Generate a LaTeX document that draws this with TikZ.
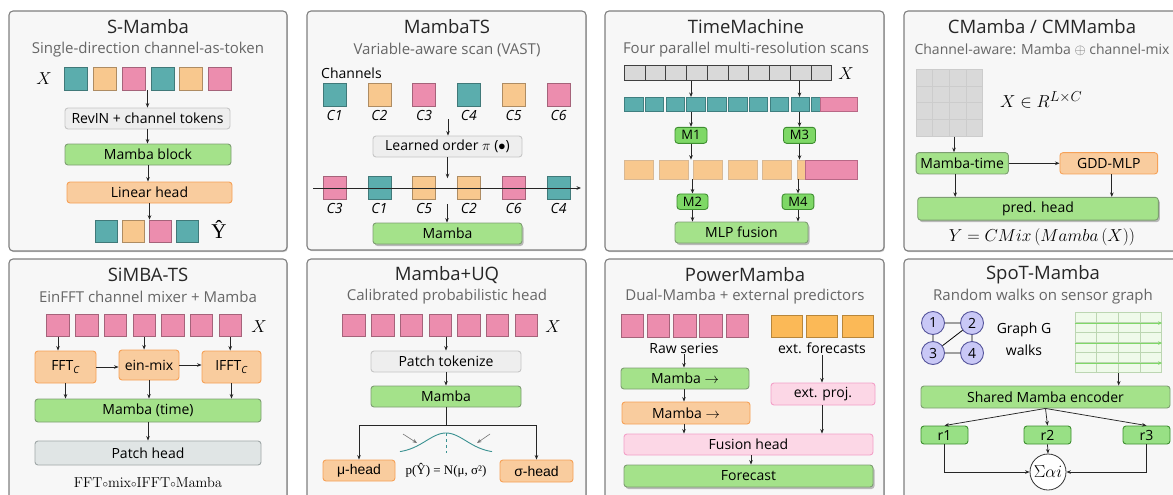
\documentclass[tikz,border=0pt]{standalone}
\usepackage[no-math]{fontspec}
\setmainfont{Open Sans}
\newfontfamily\serifx{Liberation Serif}
\newfontfamily\arialx{Liberation Sans}
\usetikzlibrary{arrows.meta,shadows,calc}

\definecolor{cpanel}{HTML}{F7F7F7}
\definecolor{cborder}{HTML}{7F7F7F}
\definecolor{csub}{HTML}{666666}
\definecolor{cteal}{HTML}{5BADAD}
\definecolor{ctealD}{HTML}{3F7F80}
\definecolor{corg}{HTML}{F8C88E}
\definecolor{corgD}{HTML}{C79A66}
\definecolor{cpink}{HTML}{EC8DAE}
\definecolor{cpinkD}{HTML}{B86886}
\definecolor{cgrayF}{HTML}{EEEEEE}
\definecolor{cgrayD}{HTML}{C6C6C6}
\definecolor{cgreen}{HTML}{A4E28A}
\definecolor{cgreenD}{HTML}{7E9E72}
\definecolor{cboxO}{HTML}{F9CC9E}
\definecolor{cboxOD}{HTML}{F6A157}
\definecolor{cmg}{HTML}{7ED866}
\definecolor{cmgD}{HTML}{3E8E30}
\definecolor{cpatch}{HTML}{E0E5E5}
\definecolor{cpatchD}{HTML}{9FA7A7}
\definecolor{cpinkL}{HTML}{FCD7E6}
\definecolor{cpinkLD}{HTML}{F3A0C8}
\definecolor{cext}{HTML}{FBB957}
\definecolor{cextD}{HTML}{B8863A}
\definecolor{cnode}{HTML}{C9C8F6}
\definecolor{cnodeD}{HTML}{56559B}
\definecolor{cgridF}{HTML}{EFFAEA}
\definecolor{cgridD}{HTML}{BCD6B2}
\definecolor{cwalk}{HTML}{7FD868}
\definecolor{cgauss}{HTML}{3A9191}
\definecolor{ccell}{HTML}{D9D9D9}

\begin{document}
\begin{tikzpicture}[x=1pt,y=-1pt,
  panel/.style={draw=cborder, fill=cpanel, rounded corners=4pt, line width=1.1pt,
    drop shadow={shadow xshift=0.8pt, shadow yshift=-1.2pt, opacity=0.2, fill=black}},
  title/.style={font=\fontsize{18.5}{20}\selectfont, text=black!85},
  sub/.style={font=\fontsize{15}{17}\selectfont, text=csub},
  lbl/.style={font=\fontsize{14}{16}\selectfont, inner sep=1pt},
  clbl/.style={font=\fontsize{14}{16}\selectfont\itshape, inner sep=0pt},
  mlbl/.style={font=\fontsize{19}{21}\selectfont, inner sep=0pt},
  sq/.style={rectangle, minimum size=23, inner sep=0, fill=#1, draw=#1!70!black, line width=0.6pt},
  box/.style={rectangle, rounded corners=3pt, inner sep=0, line width=0.9pt,
    font=\fontsize{14}{16}\selectfont},
  graybox/.style={box, fill=cgrayF, draw=cgrayD},
  grnbox/.style={box, fill=cgreen, draw=cgreenD},
  orgbox/.style={box, fill=cboxO, draw=cboxOD},
  pinkbox/.style={box, fill=cpinkL, draw=cpinkLD},
  patchbox/.style={box, fill=cpatch, draw=cpatchD},
  mbox/.style={box, fill=cmg, draw=cmgD, font=\fontsize{13}{15}\selectfont},
  shad/.style={drop shadow={shadow xshift=1.5pt, shadow yshift=-2pt, opacity=0.25, fill=black}},
  arr/.style={-{Stealth[length=4.5pt,width=3.6pt]}, line width=0.75pt, draw=black!85},
]
\useasboundingbox (0,0) rectangle (1173,495);

% ---------------- S-Mamba ----------------
\path[panel] (9,11) rectangle (287,251);
\node[title] (t1) at (148,27) {S-Mamba};
\node[sub] (s1) at (148,50) {Single-direction channel-as-token};
\node[mlbl] (x1) at (44,79) {$X$};
\foreach \c [count=\i from 0] in {cteal,corg,cpink,cteal,corg,cpink}
  \node[sq=\c] (a\i) at ({76+28.8*\i},78.5) {};
\node[graybox, minimum width=165, minimum height=21] (rev) at (147.5,118.5) {RevIN + channel tokens};
\node[grnbox, minimum width=166, minimum height=21] (mb1) at (148,154.5) {Mamba block};
\node[orgbox, minimum width=165, minimum height=21] (lh) at (149.5,192.5) {Linear head};
\foreach \c/\x [count=\i] in {cteal/106.5,corg/133,cpink/160,cteal/187.5}
  \node[sq=\c, minimum size=22] (b\i) at (\x,231) {};
\node[font=\fontsize{21}{23}\serifx, inner sep=0, anchor=base] (yh) at (219,238) {Ŷ};
\draw[arr] (rev.north |- a2.south) -- (rev.north);
\draw[arr] (rev.south) -- (rev.south |- mb1.north);
\draw[arr] (mb1.south) -- (mb1.south |- lh.north);
\draw[arr] (lh.south) -- (lh.south |- b2.north);

% ---------------- MambaTS ----------------
\path[panel] (307,11) rectangle (586,250);
\node[title] (t2) at (447,27) {MambaTS};
\node[sub] (s2) at (447,50) {Variable-aware scan (VAST)};
\node[lbl, anchor=west] (ch) at (320,73) {Channels};
\foreach \c [count=\i from 0] in {cteal,corg,cpink,cteal,corg,cpink}
  \node[sq=\c] (c\i) at ({334.5+44.8*\i},95) {};
\foreach \n [count=\i from 0] in {1,...,6}
  \node[clbl] (cl\i) at ({334.5+44.8*\i},115) {C\n};
\coordinate (p2a) at (448,119);
\node[graybox, minimum width=149, minimum height=21] (lo) at (447.5,146.5) {Learned order $\pi$ ($\bullet$)};
\draw[arr] (p2a) -- (p2a |- lo.north);
\foreach \c [count=\i from 0] in {cpink,cteal,corg,corg,cpink,cteal}
  \node[sq=\c] (d\i) at ({334.5+44.8*\i},188) {};
\coordinate (axL) at (313,188);
\coordinate (axR) at (581,188);
\draw[arr] (axL) -- (axR);
\draw[arr] (lo.south) -- ([yshift=-2pt]lo.south |- d0.north);
\foreach \n [count=\i from 0] in {3,1,5,2,6,4}
  \node[clbl] (dl\i) at ({334.5+44.8*\i},208) {C\n};
\node[grnbox, shad, minimum width=149, minimum height=21] (mb2) at (447.5,233.5) {Mamba};
\coordinate (p2b) at (447,204);
\draw[arr] (p2b) -- (p2b |- mb2.north);

% ---------------- TimeMachine ----------------
\path[panel] (605,11) rectangle (884,251);
\node[title] (t3) at (746,27) {TimeMachine};
\node[sub] (s3) at (746,50) {Four parallel multi-resolution scans};
\foreach \i in {0,...,9}
  \node[rectangle, inner sep=0, minimum width=20.74, minimum height=15.7, fill=ccell, draw=black!75, line width=0.6pt]
    (g\i) at ({634.67+20.74*\i},72.85) {};
\node[mlbl] (x3) at (846,74) {$X$};
\foreach \i in {0,...,9}
  \node[rectangle, inner sep=0, minimum width=18.5, minimum height=14.4, fill=cteal, draw=ctealD, line width=0.6pt]
    (t\i) at ({633.55+20.83*\i},104.5) {};
\node[rectangle, inner sep=0, minimum width=37.3, minimum height=14.4, fill=cpink, draw=cpinkD, line width=0.6pt]
  (tp) at (838.65,104.5) {};
\node[mbox, minimum width=32, minimum height=16] (m1) at (691,135.3) {M1};
\node[mbox, minimum width=32, minimum height=16] (m3) at (799.5,135.3) {M3};
\foreach \i in {0,...,5}
  \node[rectangle, inner sep=0, minimum width=29, minimum height=19, fill=corg, draw=corgD!70, line width=0.6pt]
    (o\i) at ({638.8+34.5*\i},169.5) {};
\node[rectangle, inner sep=0, minimum width=51.6, minimum height=19, fill=cpink, draw=cpinkD, line width=0.6pt]
  (op) at (831.5,169.5) {};
\node[mbox, minimum width=31, minimum height=15.5] (m2) at (692.5,201.7) {M2};
\node[mbox, minimum width=31.7, minimum height=15.5] (m4) at (798,201.7) {M4};
\node[grnbox, shad, minimum width=133, minimum height=21] (mlp) at (741.5,232.5) {MLP fusion};
\draw[arr] (m1.north |- g0.south) -- (m1.north |- t0.north);
\draw[arr] (m3.north |- g0.south) -- (m3.north |- t0.north);
\draw[arr] (m1.north |- t0.south) -- (m1.north);
\draw[arr] (m3.north |- t0.south) -- (m3.north);
\draw[arr] (m1.south) -- (m1.south |- o0.north);
\draw[arr] (m3.south) -- (m3.south |- o0.north);
\draw[arr] (m2.north |- o0.south) -- (m2.north);
\draw[arr] (m4.north |- o0.south) -- (m4.north);
\draw[arr] (m2.south) -- (m2.south |- mlp.north);
\draw[arr] (m4.south) -- (m4.south |- mlp.north);

% ---------------- CMamba / CMMamba ----------------
\path[panel] (904,11) rectangle (1182,251);
\node[title] (t4) at (1042,27) {CMamba / CMMamba};
\node[sub, anchor=west, font=\fontsize{14}{16}\selectfont] (s4) at (911,50) {Channel-aware: Mamba $\oplus$ channel-mix};
\foreach \i in {0,...,3}
  \foreach \j in {0,...,3}
    \node[rectangle, inner sep=0, minimum size=16.67, fill=ccell, draw=black!20, line width=0.8pt]
      (q\i\j) at ({924.33+16.67*\i},{77.63+16.67*\j}) {};
\node[anchor=west, font=\fontsize{19}{21}\selectfont, inner sep=0] (xr) at (1000,100) {$X \in R^{L\times C}$};
\node[grnbox, minimum width=92.3, minimum height=21.3] (mt) at (962.2,163.3) {Mamba-time};
\node[orgbox, minimum width=97.7, minimum height=21.3] (gdd) at (1108.8,163.3) {GDD-MLP};
\node[grnbox, shad, minimum width=240.6, minimum height=22.7] (ph) at (1038,208.7) {pred. head};
\coordinate (p4a) at (954,136.5);
\draw[arr] (p4a) -- (p4a |- mt.north);
\draw[arr] (mt.east) -- (gdd.west);
\draw[arr] ([xshift=-7pt]mt.south) -- ([xshift=-7pt]mt.south |- ph.north);
\draw[arr] ([xshift=3pt]gdd.south) -- ([xshift=3pt]gdd.south |- ph.north);
\node[font=\fontsize{16.5}{18}\selectfont, inner sep=0] (yf) at (1042,237) {$Y = CMix\,(Mamba\,(X))$};

% ---------------- SiMBA-TS ----------------
\path[panel] (9,259) rectangle (287,502);
\node[title] (t5) at (148,275) {SiMBA-TS};
\node[sub] (s5) at (148,297) {EinFFT channel mixer + Mamba};
\foreach \i in {0,...,6}
  \node[sq=cpink, minimum size=22.5] (p\i) at ({58+28.7*\i},325.5) {};
\node[mlbl] (x5) at (259,327) {$X$};
\node[orgbox, minimum width=61, minimum height=32] (fft) at (65.5,367) {FFT\textsubscript{\itshape C}};
\node[orgbox, minimum width=60, minimum height=30] (ein) at (149,365) {ein-mix};
\node[orgbox, minimum width=59, minimum height=32] (ifft) at (231.5,367) {IFFT\textsubscript{\itshape C}};
\node[grnbox, minimum width=226, minimum height=23] (mt5) at (148,410.5) {Mamba (time)};
\node[patchbox, minimum width=226, minimum height=24] (ph5) at (148,453) {Patch head};
\node[font=\fontsize{15.5}{17}\selectfont, inner sep=0] (ff) at (148,482)
  {$\mathrm{FFT}{\scriptstyle\circ}\mathrm{mix}{\scriptstyle\circ}\mathrm{IFFT}{\scriptstyle\circ}\mathrm{Mamba}$};
\draw[arr] (p0.south) -- (p0.south |- fft.north);
\draw[arr] (p3.south) -- (p3.south |- ein.north);
\draw[arr] (p6.south) -- (p6.south |- ifft.north);
\draw[arr] (fft.east) -- (fft.east -| ein.west);
\draw[arr] (ein.east) -- (ein.east -| ifft.west);
\draw[arr] (fft.south) -- (fft.south |- mt5.north);
\draw[arr] (ein.south) -- (ein.south |- mt5.north);
\draw[arr] (ifft.south) -- (ifft.south |- mt5.north);
\draw[arr] (mt5.south) -- (mt5.south |- ph5.north);

% ---------------- Mamba+UQ ----------------
\path[panel] (307,259) rectangle (586,502);
\node[title] (t6) at (447,275) {Mamba+UQ};
\node[sub] (s6) at (447,297) {Calibrated probabilistic head};
\foreach \i in {0,...,6}
  \node[sq=cpink, minimum size=22.5] (u\i) at ({354+28.7*\i},325.5) {};
\node[mlbl] (x6) at (553,327) {$X$};
\node[graybox, minimum width=150, minimum height=21] (pt) at (446,361.5) {Patch tokenize};
\node[grnbox, minimum width=150, minimum height=21] (m6) at (446,396.5) {Mamba};
\node[orgbox, minimum width=72, minimum height=21, font=\fontsize{14}{16}\arialx] (mu) at (359,470.5) {μ-head};
\node[orgbox, minimum width=73, minimum height=22, font=\fontsize{14}{16}\arialx] (sig) at (536.5,471) {σ-head};
\draw[arr] (pt.north |- u3.south) -- (pt.north);
\draw[arr] (pt.south) -- (m6.north);
\draw[arr] (m6.south) -- ++(0,18) -| (mu.north);
\draw[arr] (m6.south) -- ++(0,18) -| (sig.north);
\draw[cgauss, line width=0.9pt] plot[domain=400:492, samples=60, smooth]
  (\x,{453-20*exp(-((\x-446)/20)*((\x-446)/20)/2)});
\draw[cgauss, dashed, line width=0.7pt] (446,433) -- (446,453);
\coordinate (gl1) at (403,434); \coordinate (gl2) at (417,443);
\coordinate (gr1) at (490,434); \coordinate (gr2) at (477,443);
\draw[arr, draw=black!55, line width=0.6pt] (gl1) -- (gl2);
\draw[arr, draw=black!55, line width=0.6pt] (gr1) -- (gr2);
\node[font=\fontsize{13}{15}\serifx, inner sep=0] (pf) at (446,470) {p(Ŷ) = N(μ, σ²)};

% ---------------- PowerMamba ----------------
\path[panel] (605,259) rectangle (884,502);
\node[title] (t7) at (745,275) {PowerMamba};
\node[sub] (s7) at (745,297) {Dual-Mamba + external predictors};
\foreach \x [count=\i] in {632.5,658.5,685,711,737.5}
  \node[sq=cpink, minimum size=22.5] (w\i) at (\x,326) {};
\foreach \x [count=\i] in {786.5,822,857.5}
  \node[rectangle, inner sep=0, minimum width=31, minimum height=22, fill=cext, draw=cextD, line width=0.6pt]
    (e\i) at (\x,326) {};
\node[lbl] (rs) at (684,348) {Raw series};
\node[lbl] (ef) at (822,348) {ext. forecasts};
\node[grnbox, minimum width=128, minimum height=21] (mA) at (685,378.5) {Mamba $\rightarrow$};
\node[orgbox, minimum width=128, minimum height=22] (mB) at (686,413) {Mamba $\rightarrow$};
\node[pinkbox, minimum width=104, minimum height=22] (ep) at (823,394) {ext. proj.};
\node[pinkbox, minimum width=249, minimum height=21] (fh) at (748.5,444.5) {Fusion head};
\node[grnbox, shad, minimum width=249, minimum height=22] (fc) at (748.5,476) {Forecast};
\draw[arr] (rs.south) -- (rs.south |- mA.north);
\draw[arr] (mA.south -| rs.south) -- (rs.south |- mB.north);
\draw[arr] (mB.south -| rs.south) -- (rs.south |- fh.north);
\draw[arr] (ef.south) -- (ef.south |- ep.north);
\draw[arr] (ep.south -| ef.south) -- (ef.south |- fh.north);
\draw[arr] ([xshift=2.5pt]fh.south) -- ([xshift=2.5pt]fh.south |- fc.north);

% ---------------- SpoT-Mamba ----------------
\path[panel] (904,259) rectangle (1182,502);
\node[title] (t8) at (1043,275) {SpoT-Mamba};
\node[sub] (s8) at (1043,297) {Random walks on sensor graph};
\foreach \n/\x/\y in {1/933/323,2/972/323,3/933/353,4/972/353}
  \node[circle, inner sep=0, minimum size=23, fill=cnode, draw=cnodeD, line width=0.9pt,
    font=\fontsize{14}{16}\selectfont] (n\n) at (\x,\y) {\n};
\draw[line width=0.8pt] (n1) -- (n2) (n1) -- (n3) (n2) -- (n4) (n3) -- (n4) (n3) -- (n2);
\node[lbl] (gg) at (1024,330) {Graph G};
\node[lbl] (gw) at (1024,350) {walks};
\foreach \i in {0,...,3}
  \foreach \j in {0,...,5}
    \node[rectangle, inner sep=0, minimum width=21.67, minimum height=10, fill=cgridF, draw=cgridD, line width=0.7pt]
      (w\i\j) at ({1085.83+21.67*\i},{317.7+10*\j}) {};
\foreach \j in {0,2,4}
  \draw[-{Stealth[length=4pt,width=3.5pt]}, cwalk, line width=0.9pt] (w0\j.south west) -- (w3\j.south east);
\node[grnbox, minimum width=249, minimum height=22] (sme) at (1045.5,397) {Shared Mamba encoder};
\draw[arr] (w15.south east) -- (w15.south east |- sme.north);
\node[mbox, fill=cmg!80!white, minimum width=47, minimum height=18, font=\fontsize{14}{16}\selectfont] (r1) at (944.5,435) {r1};
\node[mbox, fill=cmg!80!white, minimum width=47, minimum height=18, font=\fontsize{14}{16}\selectfont] (r2) at (1047.5,435) {r2};
\node[mbox, fill=cmg!80!white, minimum width=47, minimum height=18, font=\fontsize{14}{16}\selectfont] (r3) at (1146.5,435) {r3};
\node[circle, draw=black!80, fill=white, line width=0.8pt, minimum size=36, inner sep=0,
  font=\fontsize{18}{20}\selectfont] (sum) at (1048,472) {$\Sigma\alpha i$};
\draw[arr] (sme.south) -- (r1.north);
\draw[arr] (sme.south) -- (r2.north);
\draw[arr] (sme.south) -- (r3.north);
\draw[arr] (r2.south) -- (sum.north);
\draw[arr] (r1.south) |- (sum.west);
\draw[arr] (r3.south) |- (sum.east);
\end{tikzpicture}
\end{document}
